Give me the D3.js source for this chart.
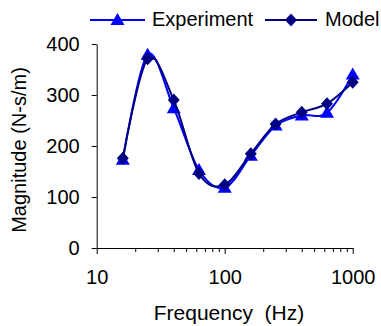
<!DOCTYPE html>
<html>
<head>
<meta charset="utf-8">
<script src="https://cdn.jsdelivr.net/npm/d3@7"></script>
<style>
  body { margin: 0; background: #fff; }
  svg text { font-family: "Liberation Sans", Arial, sans-serif; fill: #000; }
</style>
</head>
<body>
<div id="chart"></div>
<script>
var freqs = [16, 25, 40, 63, 100, 160, 250, 400, 630, 1000];
var experiment = [173, 379, 274, 153, 118, 181, 240, 260, 265, 340];
var model = [176, 371, 290, 146, 124, 185, 243, 266, 283, 325];
var yTicks = [0, 100, 200, 300, 400];
var xTicks = [10, 20, 30, 40, 50, 60, 70, 80, 90, 100, 200, 300, 400, 500, 600, 700, 800, 900, 1000];
var xLabels = [10, 100, 1000];

var w = 381, h = 326;
var svg = d3.select("#chart").append("svg")
    .attr("width", w)
    .attr("height", h);

var x = d3.scaleLog().domain([10, 1000]).range([96.7, 352.7]);
var y = d3.scaleLinear().domain([0, 400]).range([248, 44]);

// axes
var yAxis = svg.append("g")
    .attr("transform", "translate(96.7,0)")
    .call(d3.axisLeft(y).tickValues(yTicks).tickSize(5).tickSizeOuter(0).tickPadding(12));
yAxis.selectAll("text").attr("font-size", 20);

var xAxis = svg.append("g")
    .attr("transform", "translate(0,248)")
    .call(d3.axisBottom(x).tickValues(xTicks).tickSize(4).tickSizeOuter(0).tickPadding(18)
        .tickFormat(function(d) { return xLabels.indexOf(d) >= 0 ? d : ""; }));
xAxis.selectAll("text").attr("font-size", 20);
xAxis.selectAll(".tick line").attr("y2", function(d) { return xLabels.indexOf(d) >= 0 ? 6 : 4; });
svg.selectAll(".domain, .tick line").attr("stroke", "#000").attr("stroke-width", 1);

// axis titles
svg.append("text")
    .attr("x", 229)
    .attr("y", 320)
    .attr("text-anchor", "middle")
    .attr("font-size", 21)
    .attr("xml:space", "preserve")
    .text("Frequency  (Hz)");

svg.append("text")
    .attr("transform", "translate(26,150) rotate(-90)")
    .attr("text-anchor", "middle")
    .attr("font-size", 20)
    .text("Magnitude (N-s/m)");

function triangle(cx, cy) {
    return "M" + cx + "," + (cy - 7) + "L" + (cx + 7) + "," + (cy + 5) + "L" + (cx - 7) + "," + (cy + 5) + "Z";
}
function diamond(cx, cy) {
    return "M" + cx + "," + (cy - 6.5) + "L" + (cx + 6) + "," + cy + "L" + cx + "," + (cy + 6.5) + "L" + (cx - 6) + "," + cy + "Z";
}

var series = [
    {name: "Experiment", values: experiment, color: "#0000FF", marker: triangle},
    {name: "Model", values: model, color: "#000080", marker: diamond}
];

var line = d3.line()
    .x(function(d) { return x(d[0]); })
    .y(function(d) { return y(d[1]); })
    .curve(d3.curveCardinal.tension(0));

series.forEach(function(s) {
    var pts = freqs.map(function(f, i) { return [f, s.values[i]]; });
    svg.append("path")
        .attr("d", line(pts))
        .attr("fill", "none")
        .attr("stroke", s.color)
        .attr("stroke-width", 2);
    svg.selectAll(null)
        .data(pts)
        .enter().append("path")
        .attr("d", function(d) { return s.marker(x(d[0]), y(d[1])); })
        .attr("fill", s.color);
});

// legend
var legend = [
    {x1: 90, x2: 145, tx: 152},
    {x1: 265, x2: 317, tx: 325}
];
series.forEach(function(s, i) {
    var l = legend[i];
    svg.append("line")
        .attr("x1", l.x1).attr("x2", l.x2)
        .attr("y1", 20).attr("y2", 20)
        .attr("stroke", s.color)
        .attr("stroke-width", 2);
    svg.append("path")
        .attr("d", s.marker((l.x1 + l.x2) / 2, 20))
        .attr("fill", s.color);
    svg.append("text")
        .attr("x", l.tx)
        .attr("y", 26)
        .attr("font-size", 20)
        .text(s.name);
});
</script>
</body>
</html>
